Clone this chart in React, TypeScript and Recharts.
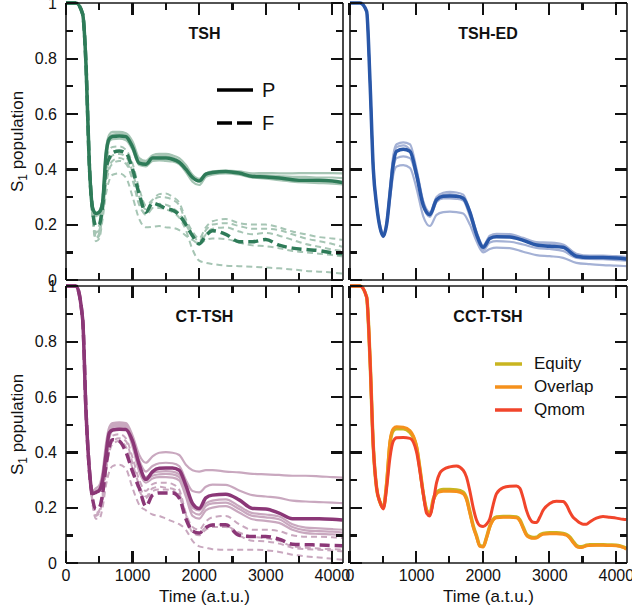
import React from 'react';
import { LineChart, Line, XAxis, YAxis } from 'recharts';

// time grids (a.t.u.)
const TIME_A = [0, 150, 250, 300, 350, 400, 450, 500, 550, 600, 650, 700, 800, 900, 1000, 1100, 1200, 1300, 1400, 1500, 1600, 1700, 1800, 1900, 2000, 2100, 2200, 2400, 2600, 2800, 3000, 3200, 3400, 3600, 3800, 4000, 4150];
const TIME_B = [0, 150, 250, 300, 350, 400, 450, 500, 550, 600, 650, 700, 800, 900, 1000, 1050, 1100, 1150, 1200, 1250, 1300, 1350, 1400, 1500, 1600, 1700, 1750, 1800, 1850, 1900, 1950, 2000, 2050, 2100, 2150, 2200, 2300, 2400, 2500, 2550, 2600, 2650, 2700, 2750, 2800, 2850, 2900, 3000, 3100, 3200, 3250, 3300, 3350, 3400, 3450, 3500, 3550, 3600, 3700, 3800, 3900, 4000, 4100, 4150];

const X_TICKS = [0, 500, 1000, 1500, 2000, 2500, 3000, 3500, 4000];
const Y_TICKS = [0, 0.1, 0.2, 0.3, 0.4, 0.5, 0.6, 0.7, 0.8, 0.9, 1];
const X_DOMAIN = [0, 4160];

// TSH
const TSH_P = [1, 1, 0.96, 0.78, 0.42, 0.26, 0.24, 0.245, 0.28, 0.45, 0.51, 0.518, 0.52, 0.517, 0.48, 0.422, 0.418, 0.44, 0.44, 0.44, 0.436, 0.425, 0.4, 0.37, 0.357, 0.382, 0.388, 0.392, 0.386, 0.374, 0.372, 0.368, 0.362, 0.36, 0.36, 0.357, 0.352];
const TSH_F = [1, 1, 0.96, 0.78, 0.42, 0.25, 0.195, 0.2, 0.27, 0.4, 0.44, 0.46, 0.466, 0.458, 0.4, 0.31, 0.245, 0.278, 0.27, 0.258, 0.252, 0.235, 0.2, 0.16, 0.13, 0.16, 0.178, 0.165, 0.138, 0.138, 0.146, 0.126, 0.115, 0.11, 0.106, 0.098, 0.095];
const TSH_LP1 = [1, 1, 0.96, 0.78, 0.42, 0.26, 0.235, 0.24, 0.3, 0.47, 0.525, 0.535, 0.535, 0.53, 0.5, 0.44, 0.43, 0.45, 0.455, 0.455, 0.45, 0.44, 0.415, 0.38, 0.365, 0.385, 0.392, 0.395, 0.392, 0.385, 0.386, 0.385, 0.385, 0.386, 0.386, 0.386, 0.385];
const TSH_LP2 = [1, 1, 0.96, 0.78, 0.42, 0.255, 0.23, 0.24, 0.27, 0.43, 0.5, 0.508, 0.51, 0.505, 0.47, 0.415, 0.41, 0.43, 0.432, 0.43, 0.428, 0.418, 0.39, 0.355, 0.343, 0.372, 0.38, 0.385, 0.38, 0.37, 0.366, 0.36, 0.355, 0.352, 0.35, 0.348, 0.345];
const TSH_LP3 = [1, 1, 0.96, 0.78, 0.42, 0.26, 0.24, 0.25, 0.29, 0.46, 0.515, 0.525, 0.528, 0.524, 0.49, 0.43, 0.425, 0.445, 0.447, 0.447, 0.443, 0.43, 0.405, 0.372, 0.36, 0.378, 0.385, 0.39, 0.388, 0.38, 0.378, 0.375, 0.372, 0.372, 0.37, 0.37, 0.368];
const TSH_LF1 = [1, 1, 0.96, 0.78, 0.42, 0.24, 0.17, 0.2, 0.3, 0.42, 0.47, 0.48, 0.482, 0.47, 0.42, 0.33, 0.27, 0.29, 0.31, 0.312, 0.3, 0.28, 0.22, 0.175, 0.15, 0.19, 0.212, 0.22, 0.205, 0.2, 0.2, 0.19, 0.175, 0.165, 0.155, 0.15, 0.145];
const TSH_LF2 = [1, 1, 0.96, 0.78, 0.42, 0.23, 0.15, 0.17, 0.26, 0.38, 0.43, 0.45, 0.455, 0.445, 0.39, 0.3, 0.255, 0.285, 0.3, 0.298, 0.29, 0.27, 0.21, 0.165, 0.14, 0.18, 0.2, 0.205, 0.195, 0.185, 0.185, 0.18, 0.165, 0.15, 0.14, 0.13, 0.12];
const TSH_LF3 = [1, 1, 0.96, 0.78, 0.42, 0.23, 0.16, 0.18, 0.25, 0.36, 0.41, 0.43, 0.44, 0.43, 0.37, 0.28, 0.235, 0.26, 0.275, 0.272, 0.26, 0.24, 0.2, 0.16, 0.13, 0.165, 0.185, 0.19, 0.175, 0.165, 0.17, 0.16, 0.145, 0.13, 0.12, 0.11, 0.105];
const TSH_LF4 = [1, 1, 0.96, 0.78, 0.42, 0.22, 0.14, 0.15, 0.22, 0.31, 0.36, 0.38, 0.385, 0.37, 0.3, 0.22, 0.19, 0.192, 0.195, 0.19, 0.188, 0.18, 0.16, 0.145, 0.13, 0.145, 0.15, 0.148, 0.135, 0.125, 0.122, 0.115, 0.105, 0.1, 0.095, 0.09, 0.085];
const TSH_LF5 = [1, 1, 0.96, 0.78, 0.42, 0.23, 0.15, 0.16, 0.24, 0.34, 0.4, 0.42, 0.43, 0.42, 0.36, 0.27, 0.24, 0.26, 0.26, 0.255, 0.245, 0.225, 0.18, 0.11, 0.07, 0.062, 0.058, 0.052, 0.05, 0.048, 0.045, 0.042, 0.038, 0.033, 0.03, 0.027, 0.023];

// TSH-ED
const ED_P = [1, 1, 0.97, 0.72, 0.4, 0.27, 0.19, 0.158, 0.2, 0.31, 0.42, 0.465, 0.472, 0.465, 0.38, 0.27, 0.236, 0.29, 0.302, 0.303, 0.302, 0.295, 0.245, 0.165, 0.118, 0.15, 0.156, 0.155, 0.143, 0.126, 0.122, 0.118, 0.086, 0.081, 0.081, 0.079, 0.076];
const ED_L1 = [1, 1, 0.97, 0.72, 0.4, 0.27, 0.19, 0.16, 0.21, 0.33, 0.45, 0.49, 0.497, 0.49, 0.4, 0.285, 0.245, 0.3, 0.315, 0.318, 0.316, 0.308, 0.25, 0.175, 0.125, 0.16, 0.167, 0.166, 0.152, 0.137, 0.135, 0.128, 0.095, 0.088, 0.088, 0.086, 0.084];
const ED_L2 = [1, 1, 0.97, 0.72, 0.4, 0.27, 0.19, 0.155, 0.2, 0.32, 0.44, 0.48, 0.486, 0.47, 0.39, 0.28, 0.24, 0.295, 0.308, 0.31, 0.306, 0.3, 0.24, 0.17, 0.12, 0.155, 0.162, 0.16, 0.15, 0.132, 0.13, 0.124, 0.092, 0.085, 0.085, 0.083, 0.081];
const ED_L3 = [1, 1, 0.97, 0.72, 0.4, 0.27, 0.19, 0.16, 0.2, 0.3, 0.4, 0.44, 0.446, 0.44, 0.37, 0.265, 0.228, 0.282, 0.295, 0.295, 0.293, 0.287, 0.23, 0.16, 0.108, 0.135, 0.14, 0.138, 0.128, 0.116, 0.112, 0.105, 0.08, 0.076, 0.075, 0.072, 0.07];
const ED_L4 = [1, 1, 0.97, 0.72, 0.4, 0.27, 0.2, 0.17, 0.2, 0.29, 0.38, 0.41, 0.415, 0.405, 0.33, 0.23, 0.195, 0.235, 0.245, 0.247, 0.245, 0.24, 0.2, 0.14, 0.1, 0.112, 0.117, 0.115, 0.102, 0.09, 0.086, 0.08, 0.062, 0.057, 0.054, 0.052, 0.05];

// CT-TSH
const CT_P = [1, 1, 0.88, 0.55, 0.34, 0.25, 0.255, 0.262, 0.3, 0.39, 0.47, 0.48, 0.483, 0.482, 0.44, 0.355, 0.302, 0.33, 0.342, 0.343, 0.343, 0.335, 0.28, 0.215, 0.197, 0.235, 0.245, 0.248, 0.228, 0.197, 0.195, 0.18, 0.16, 0.16, 0.16, 0.158, 0.155];
const CT_F = [1, 1, 0.88, 0.55, 0.34, 0.23, 0.195, 0.2, 0.25, 0.35, 0.42, 0.445, 0.44, 0.4, 0.33, 0.27, 0.205, 0.245, 0.253, 0.253, 0.253, 0.235, 0.16, 0.115, 0.108, 0.128, 0.137, 0.138, 0.1, 0.096, 0.096, 0.086, 0.068, 0.066, 0.065, 0.063, 0.062];
const CT_LS1 = [1, 1, 0.88, 0.55, 0.34, 0.26, 0.27, 0.28, 0.33, 0.43, 0.49, 0.505, 0.508, 0.505, 0.46, 0.39, 0.362, 0.385, 0.398, 0.4, 0.398, 0.39, 0.355, 0.335, 0.33, 0.335, 0.335, 0.33, 0.327, 0.322, 0.32, 0.318, 0.315, 0.315, 0.313, 0.31, 0.308];
const CT_LS2 = [1, 1, 0.88, 0.55, 0.34, 0.25, 0.26, 0.27, 0.31, 0.41, 0.48, 0.5, 0.503, 0.5, 0.45, 0.37, 0.33, 0.35, 0.36, 0.362, 0.36, 0.35, 0.3, 0.26, 0.255, 0.275, 0.283, 0.282, 0.262, 0.245, 0.24, 0.235, 0.225, 0.222, 0.22, 0.218, 0.216];
const CT_LS3 = [1, 1, 0.88, 0.55, 0.34, 0.25, 0.26, 0.27, 0.3, 0.4, 0.47, 0.495, 0.5, 0.495, 0.44, 0.35, 0.31, 0.325, 0.33, 0.332, 0.33, 0.32, 0.26, 0.2, 0.19, 0.215, 0.225, 0.23, 0.205, 0.18, 0.175, 0.168, 0.14, 0.128, 0.125, 0.122, 0.12];
const CT_LS4 = [1, 1, 0.88, 0.55, 0.34, 0.25, 0.255, 0.265, 0.3, 0.4, 0.46, 0.49, 0.495, 0.49, 0.43, 0.34, 0.3, 0.315, 0.32, 0.322, 0.32, 0.31, 0.25, 0.185, 0.175, 0.205, 0.215, 0.218, 0.195, 0.17, 0.165, 0.158, 0.13, 0.118, 0.115, 0.113, 0.11];
const CT_LS5 = [1, 1, 0.88, 0.55, 0.34, 0.25, 0.255, 0.26, 0.29, 0.38, 0.45, 0.48, 0.488, 0.482, 0.42, 0.33, 0.29, 0.305, 0.31, 0.31, 0.308, 0.298, 0.24, 0.17, 0.16, 0.19, 0.2, 0.205, 0.182, 0.158, 0.152, 0.145, 0.12, 0.108, 0.105, 0.103, 0.1];
const CT_LD1 = [1, 1, 0.88, 0.55, 0.34, 0.22, 0.18, 0.19, 0.25, 0.36, 0.43, 0.46, 0.465, 0.45, 0.38, 0.3, 0.26, 0.285, 0.29, 0.29, 0.285, 0.265, 0.18, 0.13, 0.12, 0.15, 0.165, 0.17, 0.14, 0.12, 0.12, 0.115, 0.1, 0.095, 0.095, 0.093, 0.09];
const CT_LD2 = [1, 1, 0.88, 0.55, 0.34, 0.22, 0.17, 0.18, 0.23, 0.33, 0.4, 0.43, 0.44, 0.42, 0.34, 0.26, 0.235, 0.26, 0.265, 0.265, 0.26, 0.24, 0.17, 0.11, 0.1, 0.12, 0.13, 0.13, 0.1, 0.08, 0.078, 0.07, 0.055, 0.05, 0.048, 0.045, 0.042];
const CT_LD3 = [1, 1, 0.88, 0.55, 0.34, 0.21, 0.16, 0.16, 0.2, 0.28, 0.33, 0.35, 0.355, 0.34, 0.27, 0.21, 0.19, 0.175, 0.17, 0.16, 0.15, 0.14, 0.12, 0.08, 0.06, 0.055, 0.05, 0.048, 0.048, 0.048, 0.046, 0.04, 0.03, 0.024, 0.02, 0.015, 0.012];
const CT_LD4 = [1, 1, 0.88, 0.55, 0.34, 0.22, 0.175, 0.185, 0.24, 0.34, 0.41, 0.44, 0.45, 0.44, 0.36, 0.28, 0.24, 0.27, 0.275, 0.272, 0.268, 0.25, 0.175, 0.12, 0.108, 0.13, 0.14, 0.135, 0.11, 0.095, 0.09, 0.08, 0.06, 0.055, 0.052, 0.05, 0.048];

// CCT-TSH
const EQUITY = [1, 1, 0.96, 0.74, 0.42, 0.27, 0.22, 0.2, 0.285, 0.43, 0.478, 0.485, 0.485, 0.472, 0.418, 0.34, 0.252, 0.192, 0.178, 0.23, 0.255, 0.263, 0.265, 0.265, 0.264, 0.256, 0.234, 0.186, 0.135, 0.098, 0.063, 0.06, 0.092, 0.133, 0.158, 0.166, 0.168, 0.168, 0.166, 0.156, 0.13, 0.104, 0.095, 0.092, 0.093, 0.101, 0.107, 0.109, 0.109, 0.107, 0.103, 0.094, 0.078, 0.064, 0.059, 0.06, 0.064, 0.066, 0.066, 0.066, 0.065, 0.064, 0.058, 0.053];
const OVERLAP = [1, 1, 0.96, 0.74, 0.42, 0.27, 0.22, 0.2, 0.29, 0.44, 0.485, 0.492, 0.49, 0.478, 0.42, 0.34, 0.25, 0.19, 0.175, 0.225, 0.25, 0.257, 0.259, 0.259, 0.258, 0.25, 0.228, 0.18, 0.13, 0.095, 0.06, 0.058, 0.09, 0.13, 0.155, 0.163, 0.165, 0.165, 0.163, 0.152, 0.125, 0.1, 0.092, 0.089, 0.09, 0.098, 0.104, 0.106, 0.106, 0.104, 0.1, 0.09, 0.074, 0.06, 0.056, 0.057, 0.062, 0.063, 0.064, 0.064, 0.063, 0.062, 0.056, 0.05];
const QMOM = [1, 1, 0.96, 0.74, 0.42, 0.27, 0.22, 0.195, 0.27, 0.38, 0.44, 0.452, 0.453, 0.45, 0.4, 0.33, 0.25, 0.18, 0.17, 0.22, 0.29, 0.325, 0.337, 0.347, 0.35, 0.335, 0.31, 0.26, 0.2, 0.155, 0.135, 0.132, 0.14, 0.16, 0.21, 0.25, 0.272, 0.277, 0.278, 0.27, 0.235, 0.19, 0.16, 0.147, 0.146, 0.165, 0.19, 0.215, 0.223, 0.222, 0.21, 0.185, 0.165, 0.155, 0.145, 0.14, 0.14, 0.148, 0.162, 0.168, 0.165, 0.162, 0.158, 0.157];

const GREEN = '#2e7b58';
const GREEN_L = '#a6c5b4';
const BLUE = '#2957a8';
const BLUE_L = '#a4b1d5';
const PURPLE = '#8b3777';
const PURPLE_L = '#c9a8bf';
const EQUITY_C = '#c9b520';
const OVERLAP_C = '#f5911c';
const QMOM_C = '#f1452b';
const INK = '#111';

const FONT = '"Liberation Sans", Arial, sans-serif';

type SeriesDef = { name: string; values: number[]; color: string; width: number; dash?: string };

const PLOT_W = 277;
const PLOT_H = 277;
const AXIS_L = 66;
const PAD_TOP = 20;
const PAD_RIGHT = 10;
const PAD_BOTTOM = 45;
const AXIS_LINE = { stroke: '#1a1a1a', strokeWidth: 1.6 };
const TICK_MINOR = 7; // px
const TICK_MAJOR = 12; // px
const TICK_W = 2.2;

const X_SPAN = X_DOMAIN[1] - X_DOMAIN[0];
const isMajorX = (v: number) => v % 1000 === 0;
const isMajorY = (v: number) => Math.round(v * 10) % 2 === 0;

function makeRows(times: number[], series: SeriesDef[]) {
  return times.map((t, i) => {
    const row: any = { t };
    series.forEach((s) => { row[s.name] = s.values[i]; });
    return row;
  });
}

const fmtY = (v: number) => (v === 0 || v === 1 ? String(v) : v.toFixed(1));

// tickSize and tickMargin are 0, so (x, y) is the point on the axis line
const renderLabel = (side: string, show: boolean) => (props: any) => {
  const x = Number(props.x);
  const y = Number(props.y);
  const v = props.payload.value;
  if (!show) return <g />;
  if (side === 'left' && isMajorY(v)) {
    return <text x={x - 9} y={y} dy="0.36em" textAnchor="end" fontSize={16} fill="#111">{fmtY(v)}</text>;
  }
  if (side === 'bottom' && isMajorX(v)) {
    return <text x={x} y={y + 7} dy="0.71em" textAnchor="middle" fontSize={16} fill="#111">{v}</text>;
  }
  return <g />;
};

// inward tick marks on the four sides of a plot box, as plain HTML bars
const TickFrame: React.FC = () => {
  const sx = (v: number) => ((v - X_DOMAIN[0]) / X_SPAN) * PLOT_W;
  const sy = (v: number) => PLOT_H - v * PLOT_H;
  const h = TICK_W / 2;
  const bars: { key: string; left: number; top: number; width: number; height: number }[] = [];
  X_TICKS.forEach((v) => {
    const l = isMajorX(v) ? TICK_MAJOR : TICK_MINOR;
    const x = sx(v);
    bars.push({ key: `b${v}`, left: x - h, top: PLOT_H - l, width: TICK_W, height: l });
    bars.push({ key: `t${v}`, left: x - h, top: 0, width: TICK_W, height: l });
  });
  Y_TICKS.forEach((v) => {
    const l = isMajorY(v) ? TICK_MAJOR : TICK_MINOR;
    const y = sy(v);
    bars.push({ key: `l${v}`, left: 0, top: y - h, width: l, height: TICK_W });
    bars.push({ key: `r${v}`, left: PLOT_W - l, top: y - h, width: l, height: TICK_W });
  });
  return (
    <>
      {bars.map((b) => (
        <div
          key={b.key}
          style={{ position: 'absolute', left: b.left, top: b.top, width: b.width, height: b.height, background: INK }}
        />
      ))}
    </>
  );
};

const YTitle = (props: any) => {
  const vb = props.viewBox || { x: 0, y: PAD_TOP, width: AXIS_L, height: PLOT_H };
  const cx = vb.x + 22.5;
  const cy = vb.y + vb.height / 2;
  return (
    <text x={cx} y={cy} transform={`rotate(-90, ${cx}, ${cy})`} textAnchor="middle" fontSize={17} fill="#111">
      <tspan>S</tspan>
      <tspan dy={4} fontSize={12}>1</tspan>
      <tspan dy={-4}> population</tspan>
    </text>
  );
};

interface PanelProps {
  plotLeft: number;
  plotTop: number;
  times: number[];
  series: SeriesDef[];
  yLabels: boolean;
  xLabels: boolean;
  title: string;
}

const Panel: React.FC<PanelProps> = ({ plotLeft, plotTop, times, series, yLabels, xLabels, title }) => {
  const data = makeRows(times, series);
  return (
    <>
      <div style={{ position: 'absolute', left: plotLeft - AXIS_L, top: plotTop - PAD_TOP }}>
        <LineChart
          width={PLOT_W + AXIS_L + PAD_RIGHT}
          height={PLOT_H + PAD_TOP + PAD_BOTTOM}
          data={data}
          margin={{ top: PAD_TOP - 1, right: PAD_RIGHT - 1, bottom: PAD_BOTTOM - 40, left: 0 }}
        >
          <XAxis
            xAxisId="b"
            dataKey="t"
            type="number"
            domain={X_DOMAIN}
            ticks={X_TICKS}
            interval={0}
            tickSize={0}
            tickMargin={0}
            tickLine={false}
            axisLine={AXIS_LINE}
            height={40}
            tick={renderLabel('bottom', xLabels)}
            label={xLabels ? { value: 'Time (a.t.u.)', position: 'insideBottom', offset: 1, fontSize: 17, fill: '#111' } : undefined}
          />
          <XAxis xAxisId="t" orientation="top" dataKey="t" type="number" domain={X_DOMAIN} tick={false} tickLine={false} axisLine={AXIS_LINE} height={1} />
          <YAxis
            yAxisId="l"
            type="number"
            domain={[0, 1]}
            ticks={Y_TICKS}
            interval={0}
            tickSize={0}
            tickMargin={0}
            tickLine={false}
            axisLine={AXIS_LINE}
            width={AXIS_L}
            tick={renderLabel('left', yLabels)}
            label={yLabels ? <YTitle /> : undefined}
          />
          <YAxis yAxisId="r" orientation="right" type="number" domain={[0, 1]} tick={false} tickLine={false} axisLine={AXIS_LINE} width={1} />
          {series.map((s) => (
            <Line
              key={s.name}
              xAxisId="b"
              yAxisId="l"
              type="monotone"
              dataKey={s.name}
              stroke={s.color}
              strokeWidth={s.width}
              strokeDasharray={s.dash}
              dot={false}
              activeDot={false}
              isAnimationActive={false}
            />
          ))}
        </LineChart>
      </div>
      <div style={{ position: 'absolute', left: plotLeft, top: plotTop, width: PLOT_W, height: PLOT_H, zIndex: 2, pointerEvents: 'none' }}>
        <TickFrame />
      </div>
      <div
        style={{
          position: 'absolute',
          left: plotLeft,
          width: PLOT_W,
          top: plotTop + 22,
          lineHeight: '18px',
          textAlign: 'center',
          fontWeight: 'bold',
          fontSize: 16,
          color: '#111',
        }}
      >
        {title}
      </div>
    </>
  );
};

const tshSeries: SeriesDef[] = [
  { name: 'lf1', values: TSH_LF1, color: GREEN_L, width: 2, dash: '6 4' },
  { name: 'lf2', values: TSH_LF2, color: GREEN_L, width: 2, dash: '6 4' },
  { name: 'lf3', values: TSH_LF3, color: GREEN_L, width: 2, dash: '6 4' },
  { name: 'lf4', values: TSH_LF4, color: GREEN_L, width: 2, dash: '6 4' },
  { name: 'lf5', values: TSH_LF5, color: GREEN_L, width: 2, dash: '6 4' },
  { name: 'lp1', values: TSH_LP1, color: GREEN_L, width: 2.2 },
  { name: 'lp2', values: TSH_LP2, color: GREEN_L, width: 2.2 },
  { name: 'lp3', values: TSH_LP3, color: GREEN_L, width: 2.2 },
  { name: 'f', values: TSH_F, color: GREEN, width: 3.5, dash: '10 5' },
  { name: 'p', values: TSH_P, color: GREEN, width: 3.5 },
];

const edSeries: SeriesDef[] = [
  { name: 'l1', values: ED_L1, color: BLUE_L, width: 2.2 },
  { name: 'l2', values: ED_L2, color: BLUE_L, width: 2.2 },
  { name: 'l3', values: ED_L3, color: BLUE_L, width: 2.2 },
  { name: 'l4', values: ED_L4, color: BLUE_L, width: 2.2 },
  { name: 'p', values: ED_P, color: BLUE, width: 3.5 },
];

const ctSeries: SeriesDef[] = [
  { name: 'ld1', values: CT_LD1, color: PURPLE_L, width: 2, dash: '6 4' },
  { name: 'ld2', values: CT_LD2, color: PURPLE_L, width: 2, dash: '6 4' },
  { name: 'ld3', values: CT_LD3, color: PURPLE_L, width: 2, dash: '6 4' },
  { name: 'ld4', values: CT_LD4, color: PURPLE_L, width: 2, dash: '6 4' },
  { name: 'ls1', values: CT_LS1, color: PURPLE_L, width: 2.2 },
  { name: 'ls2', values: CT_LS2, color: PURPLE_L, width: 2.2 },
  { name: 'ls3', values: CT_LS3, color: PURPLE_L, width: 2.2 },
  { name: 'ls4', values: CT_LS4, color: PURPLE_L, width: 2.2 },
  { name: 'ls5', values: CT_LS5, color: PURPLE_L, width: 2.2 },
  { name: 'f', values: CT_F, color: PURPLE, width: 3.5, dash: '10 5' },
  { name: 'p', values: CT_P, color: PURPLE, width: 3.5 },
];

const cctSeries: SeriesDef[] = [
  { name: 'Equity', values: EQUITY, color: EQUITY_C, width: 3.5 },
  { name: 'Overlap', values: OVERLAP, color: OVERLAP_C, width: 3 },
  { name: 'Qmom', values: QMOM, color: QMOM_C, width: 3 },
];

const PF_LEGEND = [
  { label: 'P', dash: undefined as string | undefined },
  { label: 'F', dash: '15 5' },
];

const CCT_LEGEND = [
  { label: 'Equity', color: EQUITY_C },
  { label: 'Overlap', color: OVERLAP_C },
  { label: 'Qmom', color: QMOM_C },
];

const App: React.FC = () => {
  return (
    <div style={{ position: 'absolute', left: 0, top: 0, width: 632, height: 613, background: '#fff', fontFamily: FONT, overflow: 'hidden' }}>
      <Panel plotLeft={66} plotTop={286.3} times={TIME_A} series={ctSeries} yLabels xLabels title="CT-TSH" />
      <Panel plotLeft={349.5} plotTop={286.3} times={TIME_B} series={cctSeries} yLabels={false} xLabels title="CCT-TSH" />
      <Panel plotLeft={66} plotTop={3.3} times={TIME_A} series={tshSeries} yLabels xLabels={false} title="TSH" />
      <Panel plotLeft={349.5} plotTop={3.3} times={TIME_A} series={edSeries} yLabels={false} xLabels={false} title="TSH-ED" />

      <div style={{ position: 'absolute', left: 217, top: 73.5 }}>
        {PF_LEGEND.map((it) => (
          <div key={it.label} style={{ display: 'flex', alignItems: 'center', height: 33 }}>
            <svg width={36} height={8}>
              <line x1={0} x2={36} y1={4} y2={4} stroke="#000" strokeWidth={3.5} strokeDasharray={it.dash} />
            </svg>
            <span style={{ marginLeft: 9, fontSize: 20, color: '#111' }}>{it.label}</span>
          </div>
        ))}
      </div>

      <div style={{ position: 'absolute', left: 495, top: 352 }}>
        {CCT_LEGEND.map((it) => (
          <div key={it.label} style={{ display: 'flex', alignItems: 'center', height: 23 }}>
            <svg width={27} height={8}>
              <line x1={0} x2={27} y1={4} y2={4} stroke={it.color} strokeWidth={3.5} />
            </svg>
            <span style={{ marginLeft: 12, fontSize: 17, color: '#111' }}>{it.label}</span>
          </div>
        ))}
      </div>
    </div>
  );
};

export default App;
